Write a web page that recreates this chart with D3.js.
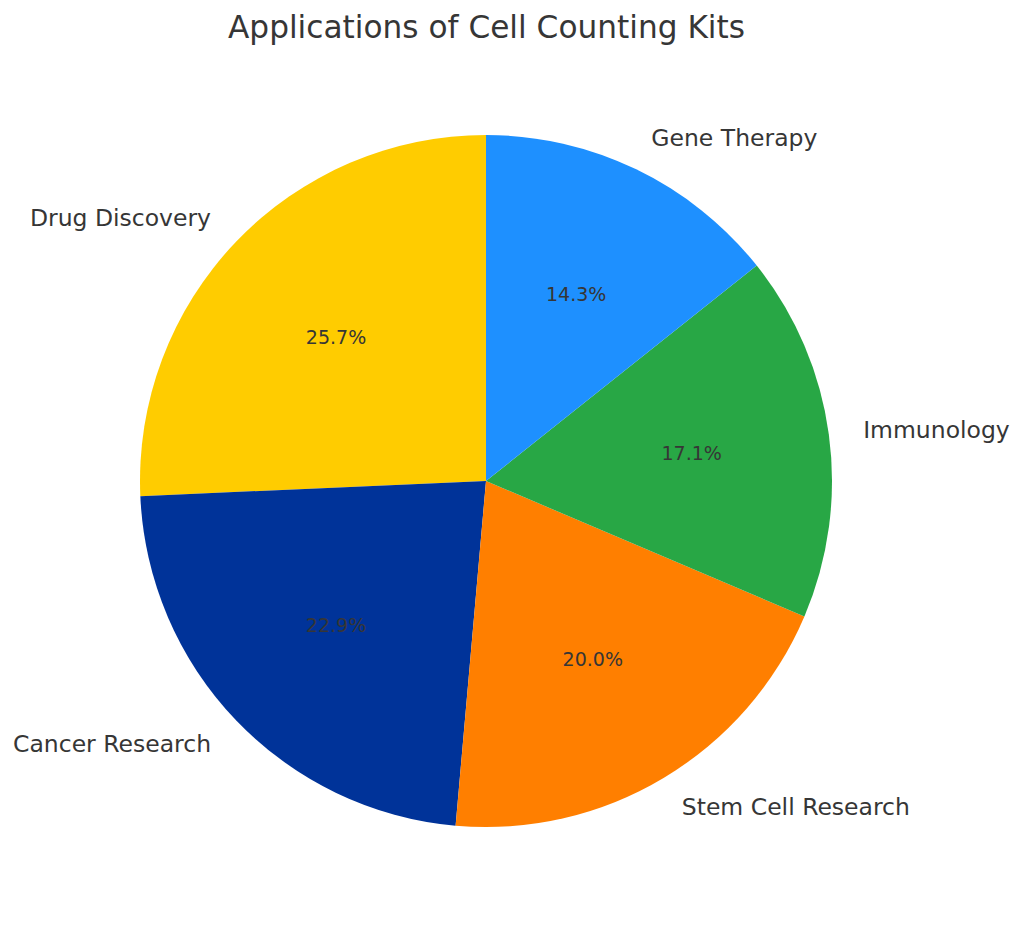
<!DOCTYPE html>
<html>
<head>
<meta charset="utf-8">
<script src="https://cdn.jsdelivr.net/npm/d3@7"></script>
<style>
  body { margin: 0; background: #fff; }
  text { font-family: "DejaVu Sans", sans-serif; fill: #363636; }
</style>
</head>
<body>
<div id="chart"></div>
<script>
const width = 1024, height = 928;

// Data (percent of total)
const categories = ["Drug Discovery", "Cancer Research", "Stem Cell Research", "Immunology", "Gene Therapy"];
const shares = [25.7, 22.9, 20.0, 17.1, 14.3];
const colors = ["#FFCC00", "#003399", "#FF7F00", "#28A745", "#1E90FF"];

const cx = 486, cy = 481, radius = 346;

const svg = d3.select("#chart").append("svg")
    .attr("width", width)
    .attr("height", height);

svg.append("text")
    .attr("x", cx + 0.5)
    .attr("y", 38)
    .attr("text-anchor", "middle")
    .style("font-size", "31.2px")
    .text("Applications of Cell Counting Kits");

const rows = categories.map((c, i) => ({ name: c, value: shares[i], color: colors[i] }));

// counterclockwise from 12 o'clock, like matplotlib startangle=90
const pie = d3.pie()
    .sort(null)
    .value(d => d.value)
    .startAngle(0)
    .endAngle(-2 * Math.PI);

const arcs = pie(rows);

const arc = d3.arc().innerRadius(0).outerRadius(radius);

const g = svg.append("g").attr("transform", `translate(${cx},${cy})`);

g.selectAll("path.slice")
    .data(arcs)
    .enter()
    .append("path")
    .attr("class", "slice")
    .attr("d", arc)
    .attr("fill", d => d.data.color);

const midAngle = d => (d.startAngle + d.endAngle) / 2;

// percentage labels at 0.6 r
g.selectAll("text.pct")
    .data(arcs)
    .enter()
    .append("text")
    .attr("class", "pct")
    .attr("x", d => Math.sin(midAngle(d)) * radius * 0.6)
    .attr("y", d => -Math.cos(midAngle(d)) * radius * 0.6)
    .attr("text-anchor", "middle")
    .attr("dominant-baseline", "central")
    .style("font-size", "19px")
    .text(d => d.data.value.toFixed(1) + "%");

// category labels at 1.1 r
g.selectAll("text.label")
    .data(arcs)
    .enter()
    .append("text")
    .attr("class", "label")
    .attr("x", d => Math.sin(midAngle(d)) * radius * 1.1)
    .attr("y", d => -Math.cos(midAngle(d)) * radius * 1.1)
    .attr("text-anchor", d => Math.sin(midAngle(d)) > 0 ? "start" : "end")
    .attr("dominant-baseline", "central")
    .style("font-size", "23.5px")
    .text(d => d.data.name);
</script>
</body>
</html>
